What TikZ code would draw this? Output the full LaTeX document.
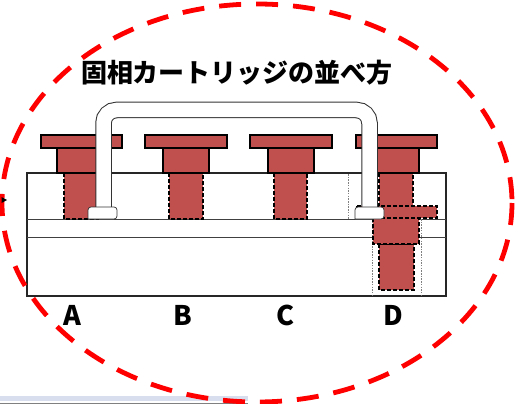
\documentclass[tikz,border=0pt]{standalone}
\usepackage{fontspec}
\newfontfamily\jpfont{Noto Sans CJK JP}
\definecolor{cartucho}{RGB}{192,80,77}
\definecolor{barra}{RGB}{217,222,239}

\begin{document}
\begin{tikzpicture}[x=1pt,y=-1pt,
    pieza/.style={fill=cartucho, draw=black, line width=1.3pt},
    oculta/.style={fill=cartucho, draw=black, line width=1.6pt, dash pattern=on 4pt off 2pt},
    guia/.style={draw=gray, line width=0.6pt, dash pattern=on 1.5pt off 1.2pt},
    pie/.style={fill=white, draw=black!80, line width=0.7pt},
    letra/.style={font=\jpfont\bfseries\fontsize{27}{27}\selectfont}]
\useasboundingbox (0,0) rectangle (520,404);

% Barra inferior
\fill[barra] (0,396) rectangle (248,401);
\draw[gray, line width=1pt] (0,403.5) -- (248,403.5);

% Bloque
\draw[fill=white, line width=1.1pt, draw=black!85] (27,173) rectangle (446,296);
\draw[line width=0.8pt, draw=black!75] (27,219) -- (446,219);
\draw[line width=0.8pt, draw=black!75] (27,237) -- (446,237);

% Guias de D
\draw[guia] (348,174) -- (348,219);
\draw[guia] (372,219) -- (372,296);
\draw[guia] (421,219) -- (421,296);

% Cartucho A
\draw[oculta] (64,173) rectangle (98,219);
\draw[pieza] (57,148) rectangle (103,173);
\draw[pieza] (41,135) rectangle (122,148);

% Cartucho B
\draw[oculta] (169,173) rectangle (203,219);
\draw[pieza] (163,148) rectangle (209,173);
\draw[pieza] (145,135) rectangle (227,148);

% Cartucho C
\draw[oculta] (274,173) rectangle (307,219);
\draw[pieza] (268,148) rectangle (314,173);
\draw[pieza] (250,135) rectangle (332,148);

% Cartucho D (bajado)
\draw[oculta] (379,244) rectangle (414,290);
\draw[oculta] (373,218) rectangle (419,244);
\draw[oculta] (379,173) rectangle (413,207);
\draw[oculta] (357,206) rectangle (437,218);
\draw[pieza] (373,148) rectangle (419,173);
\draw[pieza] (356,135) rectangle (437,148);

% Tubo
\draw[black!80, line width=16.5pt, rounded corners=13pt]
    (103.5,209) -- (103.5,110) -- (369.5,110) -- (369.5,209);
\draw[white, line width=14.5pt, rounded corners=13pt]
    (103.5,210) -- (103.5,110) -- (369.5,110) -- (369.5,210);
\draw[pie] (88,219) [rounded corners=3pt] |- (102,207) -| (117,219) [sharp corners] -- cycle;
\draw[pie] (355,219) [rounded corners=3pt] |- (370,207) -| (384,219) [sharp corners] -- cycle;

% Contorno rojo
\draw[red, line width=4.8pt, dash pattern=on 22pt off 15pt] (257,203) ellipse [x radius=255, y radius=199];

% Flecha del borde
\fill (1.5,197) -- (7,200) -- (1.5,203) -- cycle;

% Etiquetas
\node[font=\jpfont\bfseries\fontsize{26}{26}\selectfont] (titulo) at (237,73) {固相カートリッジの並べ方};
\node[letra] (A) at (72,315) {A};
\node[letra] (B) at (183,315) {B};
\node[letra] (C) at (286,315) {C};
\node[letra] (D) at (393,315) {D};
\end{tikzpicture}
\end{document}
